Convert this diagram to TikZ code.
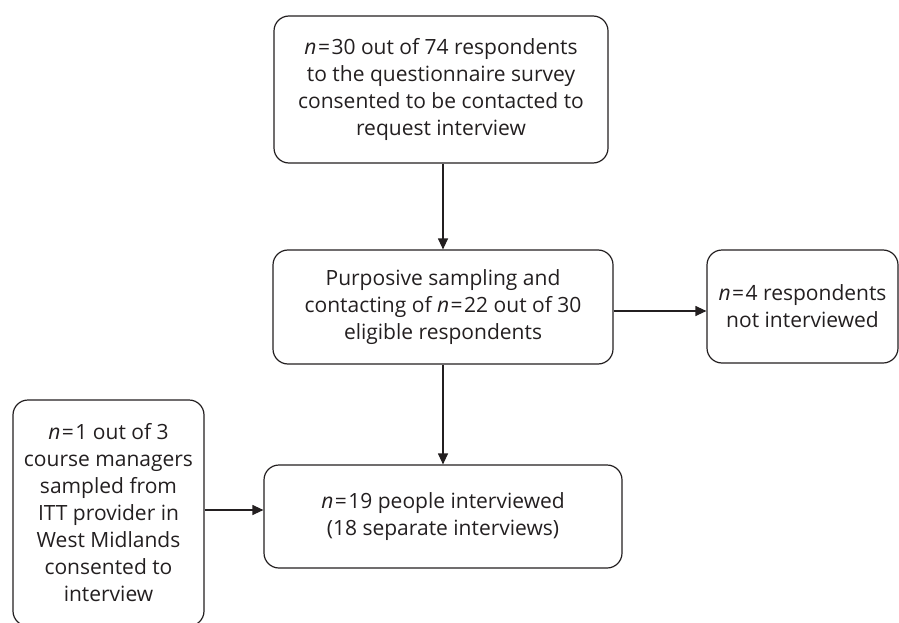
\documentclass[tikz,border=0pt]{standalone}
\usepackage{fontspec}
\setmainfont{Open Sans}
\usetikzlibrary{arrows.meta}
\definecolor{ink}{HTML}{231F20}
\newcommand{\eqn}[1]{\textit{n}\kern1.5pt=\kern1.5pt#1}
\begin{document}
\begin{tikzpicture}[x=1pt,y=-1pt,
  box/.style={draw=ink, line width=1.2pt, rounded corners=15pt, inner sep=0pt,
    align=center, text=ink, font=\fontsize{21}{27}\selectfont},
  flow/.style={draw=ink, line width=1.2pt, -{Triangle[length=11pt,width=10pt]}}]
\useasboundingbox (0,0) rectangle (899,623);
\clip (0,0) rectangle (899,623);
% main chain of boxes
\node[box, minimum width=334pt, minimum height=147pt] (survey) at (441,89.5)
  {\eqn{30} out of 74 respondents\\to the questionnaire survey\\consented to be contacted to\\request interview};
\node[box, minimum width=340pt, minimum height=114pt] (sampling) at (443,307)
  {Purposive sampling and\\contacting of \eqn{22} out of 30\\eligible respondents};
\node[box, minimum width=358pt, minimum height=103pt] (interviewed) at (443,516.5)
  {\eqn{19} people interviewed\\(18 separate interviews)};
% side boxes
\node[box, minimum width=191pt, minimum height=113pt] (notint) at (802.5,306.5)
  {\eqn{4} respondents\\not interviewed};
\node[box, minimum width=191pt, minimum height=226pt] (managers) at (108.5,513)
  {\eqn{1} out of 3\\course managers\\sampled from\\ITT provider in\\West Midlands\\consented to\\interview};
% connectors
\draw[flow] (survey.south -| 443,0) -- (sampling.north -| 443,0);
\draw[flow] (sampling.south -| 443,0) -- (interviewed.north -| 443,0);
\draw[flow] (sampling.east |- 0,311) -- (notint.west |- 0,311);
\draw[flow] (managers.east |- 0,510) -- (interviewed.west |- 0,510);
\end{tikzpicture}
\end{document}
